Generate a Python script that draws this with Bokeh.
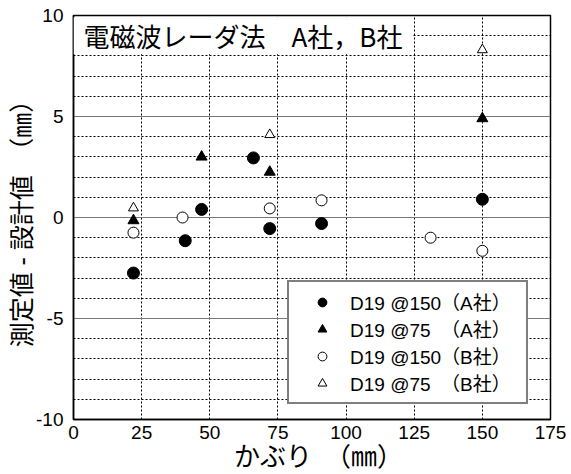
from bokeh.plotting import figure
from bokeh.models import Range1d, FixedTicker, Label, Legend, LegendItem
from bokeh.embed import file_html
from bokeh.resources import INLINE

# ---- data ----
x_a150 = [22, 41, 47, 66, 72, 91, 150]
y_a150 = [-2.75, -1.15, 0.4, 2.95, -0.55, -0.3, 0.9]
x_a75 = [22, 47, 72, 150]
y_a75 = [-0.15, 3.0, 2.25, 4.9]
x_b150 = [22, 40, 72, 91, 131, 150]
y_b150 = [-0.75, 0.0, 0.45, 0.85, -1.0, -1.65]
x_b75 = [22, 72, 150]
y_b75 = [0.47, 4.1, 8.3]

x_ticks = [0, 25, 50, 75, 100, 125, 150, 175]
y_ticks = [-10, -5, 0, 5, 10]
y_tick_labels = ["-10", "-5", "0", "5", "10"]
y_minor = list(range(-10, 11))

title_text = "電磁波レーダ法\u3000A社，B社"
x_label = "\u2002かぶり\u3000（㎜）"
y_label = "測定値 - 設計値\u3000（㎜）"
labels = ["D19 @150（A社）\u3000", "D19 @75\u00a0\u00a0（A社）\u3000",
          "D19 @150（B社）\u3000", "D19 @75\u00a0\u00a0（B社）\u3000"]

JP = "Noto Sans CJK JP"
MIX = "'Liberation Sans', 'Noto Sans CJK JP'"
LAT = "Liberation Sans"

p = figure(width=571, height=474, output_backend="svg", toolbar_location=None,
           x_range=Range1d(0, 175), y_range=Range1d(-10, 10),
           min_border_left=73, min_border_right=21, min_border_top=15,
           min_border_bottom=55)
p.background_fill_color = "white"
p.border_fill_color = "white"
p.outline_line_color = "black"
p.outline_line_width = 1.5

# axes
p.xaxis.ticker = FixedTicker(ticks=x_ticks)
p.yaxis.ticker = FixedTicker(ticks=y_ticks, minor_ticks=y_minor)
p.yaxis.major_label_overrides = dict(zip(y_ticks, y_tick_labels))
for ax in (p.xaxis[0], p.yaxis[0]):
    ax.major_tick_in = 0
    ax.major_tick_out = 0
    ax.minor_tick_in = 0
    ax.minor_tick_out = 0
    ax.axis_line_color = "black"
    ax.axis_line_width = 1.5
    ax.major_label_text_font = LAT
    ax.major_label_text_font_size = "19px"
    ax.major_label_text_color = "black"
    ax.axis_label_text_font = MIX
    ax.axis_label_text_font_style = "normal"
    ax.axis_label_text_color = "black"
p.xaxis.axis_label_text_font_size = "26px"
p.yaxis.axis_label_text_font_size = "25px"
p.xaxis.major_label_standoff = 6
p.yaxis.major_label_standoff = 10
p.xaxis.axis_label = x_label
p.yaxis.axis_label = y_label
p.xaxis.axis_label_standoff = 0
p.yaxis.axis_label_standoff = -3

# grids
p.xgrid.grid_line_color = "black"
p.xgrid.grid_line_dash = "2 2"
p.xgrid.grid_line_width = 1
p.ygrid.grid_line_color = "#777777"
p.ygrid.grid_line_width = 1
p.ygrid.minor_grid_line_color = "black"
p.ygrid.minor_grid_line_dash = "2 2"
p.ygrid.minor_grid_line_width = 1

# points
r1 = p.scatter(x_a150, y_a150, marker="circle", size=12,
               fill_color="black", line_color="black")
r2 = p.scatter(x_a75, y_a75, marker="triangle", size=11,
               fill_color="black", line_color="black")
r3 = p.scatter(x_b150, y_b150, marker="circle", size=11,
               fill_color="white", line_color="black", line_width=1)
r4 = p.scatter(x_b75, y_b75, marker="triangle", size=10,
               fill_color="white", line_color="black", line_width=1)

legend = Legend(items=[LegendItem(label=labels[0], renderers=[r1]),
                       LegendItem(label=labels[1], renderers=[r2]),
                       LegendItem(label=labels[2], renderers=[r3]),
                       LegendItem(label=labels[3], renderers=[r4])],
                location=(214, 15), margin=0, padding=6,
                glyph_width=54, glyph_height=22, label_height=22,
                label_standoff=1, spacing=-1,
                border_line_color="black", border_line_width=2,
                background_fill_color="white", background_fill_alpha=1,
                label_text_font=MIX, label_text_font_size="19px",
                label_text_color="black")
p.add_layout(legend, "center")

# title inside plot
p.add_layout(Label(x=0, y=9.0, text=title_text, text_font=JP,
                   text_font_size="26px", text_baseline="middle",
                   text_align="left", background_fill_color="white",
                   padding=(10, 0), text_color="black"))

open("out.html", "w").write(file_html(p, INLINE))
